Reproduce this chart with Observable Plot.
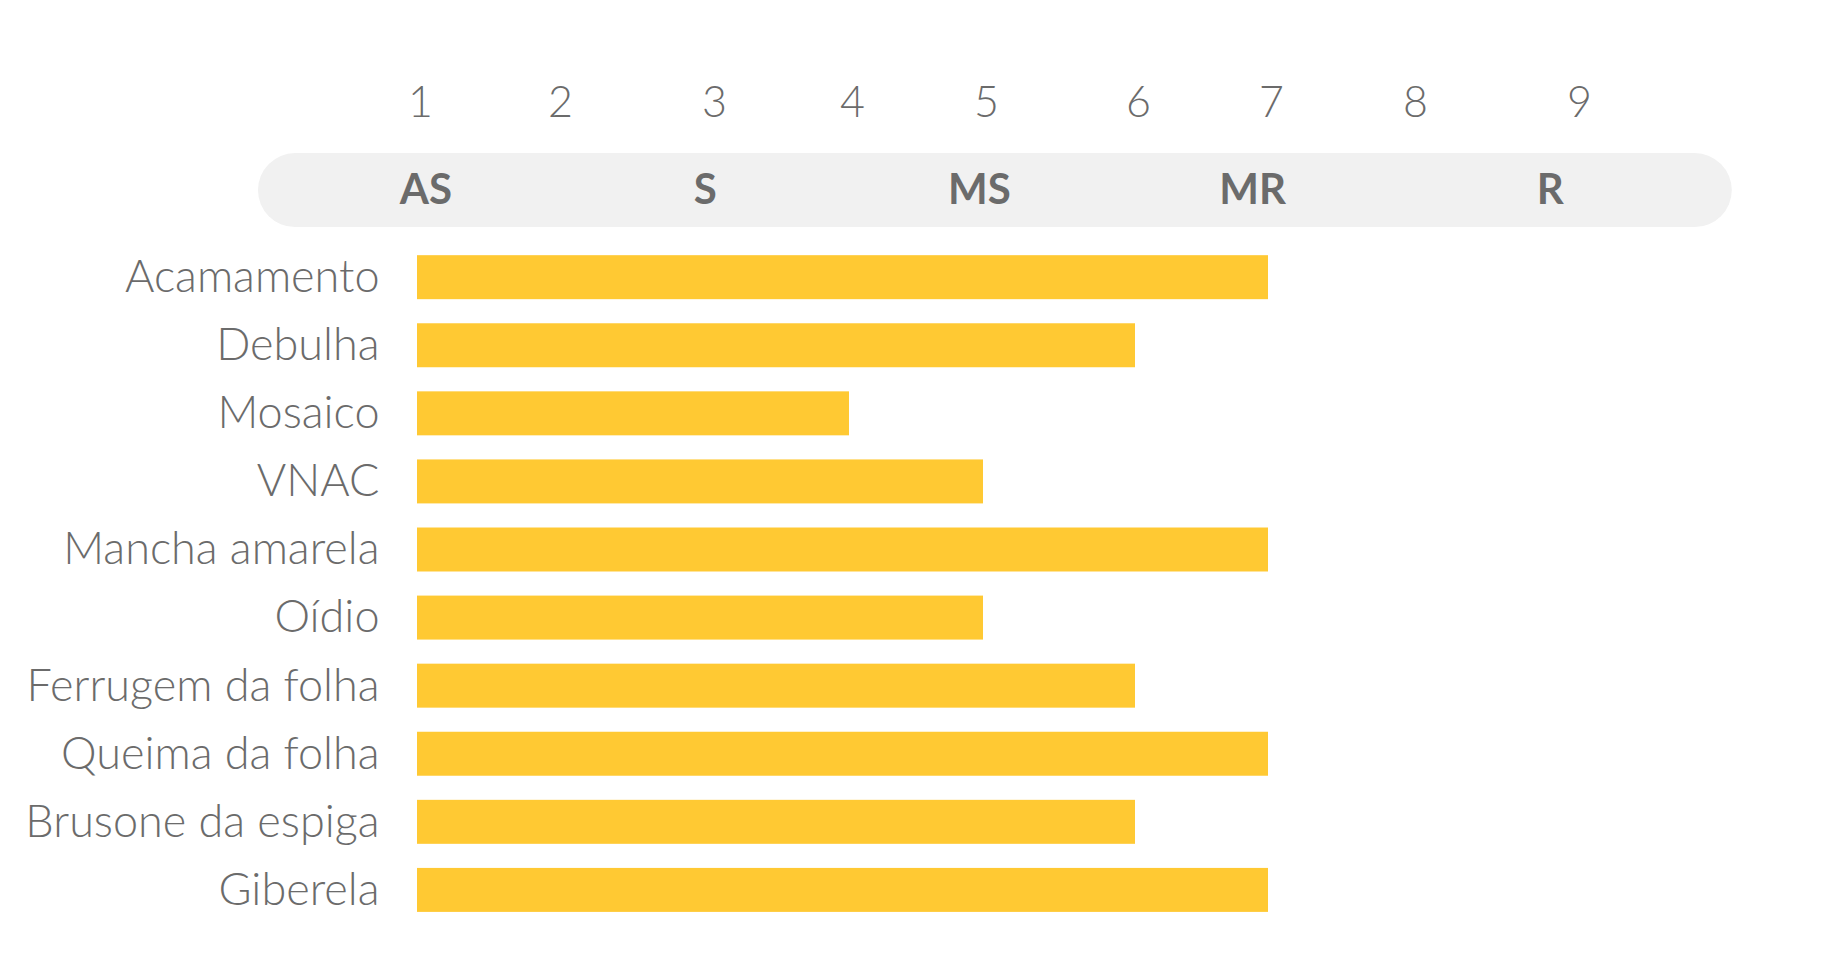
<!DOCTYPE html>
<html>
<head>
<meta charset="utf-8">
<script src="https://cdn.jsdelivr.net/npm/d3@7"></script>
<script src="https://cdn.jsdelivr.net/npm/@observablehq/plot@0.6"></script>
<style>
  html, body { margin: 0; padding: 0; background: #fff; }
  #chart svg { display: block; }
</style>
</head>
<body>
<div id="chart"></div>
<script>
// Data
const categories = ["Acamamento", "Debulha", "Mosaico", "VNAC", "Mancha amarela", "Oídio",
  "Ferrugem da folha", "Queima da folha", "Brusone da espiga", "Giberela"];
const values = [7, 6, 4, 5, 7, 5, 6, 7, 6, 7];
const scaleTicks = [1, 2, 3, 4, 5, 6, 7, 8, 9];
const classLabels = ["AS", "S", "MS", "MR", "R"];
const classValues = [1.06, 2.96, 4.97, 6.88, 8.84]; // where each class label sits on the 1–9 scale
const baseValue = 1;
const headerRow = "__classes__";
const bandExtent = [-0.136, 9.95]; // extent of the grey class band, in scale units

const rows = categories.map((name, i) => ({name, value: values[i]}));
const classes = classLabels.map((label, i) => ({label, x: classValues[i]}));

// The reference's 1–9 scale is not evenly spaced: piecewise-linear mapping of the scale
const W = 1828;
const tickStops = [417, 557, 711, 849, 983, 1135, 1268, 1412, 1576];
const piecewise = d3.scaleLinear(scaleTicks, tickStops);

const gray = "#6b6b6b";
const font = "Lato, 'Open Sans', sans-serif";

const chart = Plot.plot({
  width: W,
  height: 956,
  marginLeft: 0,
  marginRight: 0,
  marginTop: 163,
  marginBottom: 20,
  style: {fontFamily: font, background: "#fff"},
  x: {type: "linear", domain: [0, W], transform: piecewise, axis: null},
  y: {domain: [headerRow, ...categories], padding: 0.354, round: false, axis: null},
  marks: [
    // grey pill band holding the class labels
    Plot.rect([0], {
      x1: () => bandExtent[0], x2: () => bandExtent[1], y: () => headerRow,
      fill: "#f1f1f1", rx: 37, insetTop: -34, insetBottom: 4
    }),
    Plot.text(classes, {
      x: "x", y: () => headerRow, text: "label", dy: -19,
      fill: gray, fontSize: 42, fontWeight: "bold", fontFamily: font
    }),
    // numeric scale labels
    Plot.text(scaleTicks, {
      x: d => d, frameAnchor: "top", lineAnchor: "middle", dy: -60, dx: 3, text: d => String(d),
      fill: gray, fontSize: 43, fontWeight: 300, fontFamily: font
    }),
    Plot.barX(rows, {x1: () => baseValue, x2: "value", y: "name", fill: "#FFC933"}),
    Plot.axisY(categories, {
      anchor: "left", tickSize: 0, tickPadding: 38, label: null,
      fontSize: 45, fontWeight: 300, fill: gray, fontFamily: font,
      x: () => baseValue, frameAnchor: null
    })
  ]
});
document.getElementById("chart").append(chart);
</script>
</body>
</html>
